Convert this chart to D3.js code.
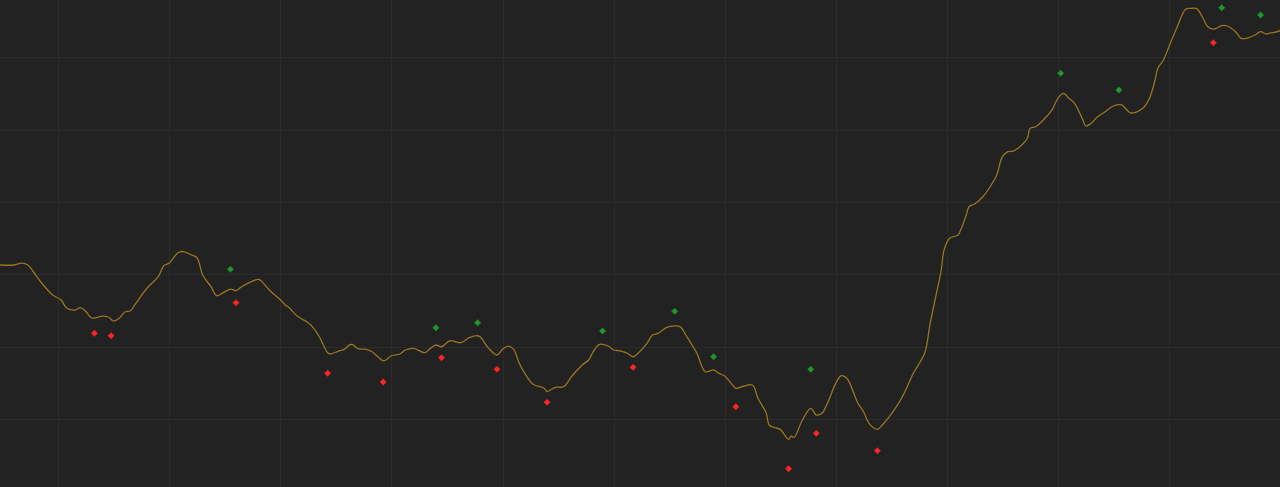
<!DOCTYPE html>
<html>
<head>
<meta charset="utf-8">
<script src="https://cdn.jsdelivr.net/npm/d3@7"></script>
<style>
    html, body { margin: 0; padding: 0; background: #222222; overflow: hidden; }
</style>
</head>
<body>
<div id="chart"></div>
<script>
// price line (bar index, value)
const lineBars = [0,5,8,10,12,15,19,22,24,27,29,31,33,37,39,41,43,45,47,49,53,57,59,61,64,66,69,71,73,76,78,80,83,85,87,90,93,94,97,101,103,104,107,111,113,115,118,119,122,124,126,127,129,132,134,138,139,141,144,146,149,153,155,157,159,162,164,166,169,172,173,176,179,181,183,185,187,189,192,196,197,200,203,206,210,212,214,216,219,221,223,226,228,230,233,235,237,240,242,245,247,251,254,257,259,261,264,265,268,271,273,276,277,279,281,284,285,286,289,292,294,296,298,301,303,305,309,311,313,316,318,322,325,329,333,335,337,339,340,342,345,346,348,349,351,354,357,359,361,363,365,368,370,371,373,376,379,381,383,385,387,390,391,393,395,398,401,404,405,407,409,412,414,416,417,419,421,424,427,429,431,433,435,437,438,440,442,445,447,449,452,454,456,457,459,461]
const lineValues = [121.31,121.31,121.58,121.31,120.38,118.82,117.16,116.47,115.37,115.09,115.41,114.86,113.99,114.26,114.13,113.57,113.99,114.82,115.00,116.06,118.13,119.69,121.21,121.58,122.97,123.17,122.69,122.28,119.93,118.31,117.07,117.40,117.99,117.76,118.31,118.92,119.33,119.14,117.86,116.47,115.69,115.47,114.26,113.34,112.56,111.40,109.20,109.02,109.43,109.66,110.30,110.30,109.75,109.66,109.33,108.09,108.19,108.78,109.02,109.57,109.80,109.20,109.80,110.26,110.02,110.85,110.71,110.58,111.27,111.54,111.36,109.80,108.88,109.66,110.12,109.66,107.73,106.35,104.83,104.28,103.84,104.42,104.50,105.98,107.59,108.19,109.57,110.36,110.12,109.57,109.47,109.11,108.64,109.20,110.49,111.64,111.87,112.65,112.88,112.79,111.64,109.11,106.57,106.81,106.35,105.98,104.66,104.28,104.60,104.73,102.90,100.82,99.21,98.84,98.61,97.23,97.69,97.51,99.90,101.52,100.59,100.82,102.21,104.97,106.02,105.66,102.21,101.05,99.44,98.61,99.31,101.28,103.12,106.39,109.11,113.26,116.93,120.62,123.38,125.00,125.45,126.14,128.21,129.36,129.73,130.74,132.36,133.74,136.27,136.96,137.05,137.88,138.81,140.19,140.41,141.43,142.81,144.33,145.02,144.33,143.64,141.34,140.51,140.88,141.68,142.48,143.27,143.41,143.09,142.34,142.40,143.09,144.33,146.86,148.48,149.62,151.46,154.22,156.63,156.76,156.71,155.60,154.22,153.90,154.00,154.36,154.32,153.53,152.62,152.62,153.08,153.53,153.21,153.31,153.45,153.67]

// sell signals (red) and buy signals (green)
const sellBars = [34,40,85,118,138,159,179,197,228,265,284,294,316,437]
const sellValues = [111.87,111.54,116.10,106.35,105.15,108.50,106.90,102.34,107.18,101.74,93.17,98.06,95.66,152.01]
const buyBars = [83,157,172,217,243,257,292,382,403,440,454]
const buyValues = [120.71,112.65,113.34,112.19,114.91,108.64,106.90,147.79,145.48,156.85,155.84]

// grid positions
const gridBars = [21,61,101,141,181,221,261,301,341,381,421]
const gridValues = [100,110,120,130,140,150]

const width = 1280
const height = 487

const svg = d3.select("#chart")
    .append("svg")
    .attr("width", width)
    .attr("height", height)
    .style("display", "block")

svg.append("rect")
    .attr("width", width)
    .attr("height", height)
    .attr("fill", "#222222")

const x = d3.scaleLinear().domain([0, 461]).range([0, width])
const y = d3.scaleLinear().domain([90.65, 157.91]).range([height, 0])

// grid lines
svg.append("g")
    .attr("class", "grid")
    .call(d3.axisBottom(x).tickValues(gridBars).tickSize(height).tickFormat(""))
    .call(g => g.select(".domain").remove())

svg.append("g")
    .attr("class", "grid")
    .call(d3.axisRight(y).tickValues(gridValues).tickSize(width).tickFormat(""))
    .call(g => g.select(".domain").remove())

svg.selectAll(".grid line")
    .attr("stroke", "#2b2b2b")
    .attr("stroke-width", 1)
    .attr("shape-rendering", "crispEdges")

const points = lineBars.map((b, i) => [b, lineValues[i]])

const line = d3.line()
    .x(d => x(d[0]))
    .y(d => y(d[1]))
    .curve(d3.curveCatmullRom.alpha(0.5))

svg.append("path")
    .datum(points)
    .attr("d", line)
    .attr("fill", "none")
    .attr("stroke", "#967620")
    .attr("stroke-width", 1.3)

const diamond = d3.symbol().type(d3.symbolSquare).size(18)

function drawSignals(bars, values, color) {
    svg.append("g")
        .selectAll("path")
        .data(bars.map((b, i) => [b, values[i]]))
        .enter()
        .append("path")
        .attr("d", diamond)
        .attr("transform", d => "translate(" + x(d[0]) + "," + y(d[1]) + ") rotate(45)")
        .attr("fill", color)
        .attr("stroke", color)
        .attr("stroke-opacity", 0.5)
        .attr("stroke-width", 1)
}

drawSignals(sellBars, sellValues, "#ff2626")
drawSignals(buyBars, buyValues, "#1f9a2b")
</script>
</body>
</html>
